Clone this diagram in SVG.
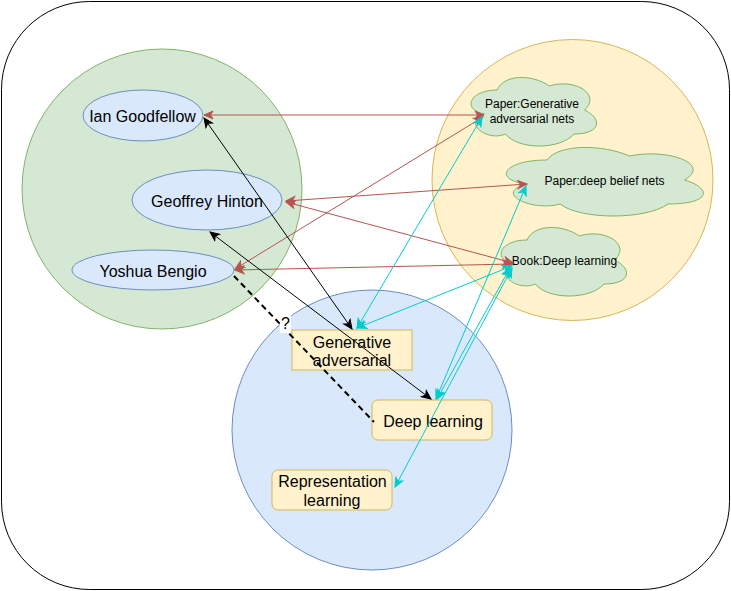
<svg xmlns="http://www.w3.org/2000/svg" width="731" height="591" viewBox="0 0 731 591">
<style>
text{font-family:"Liberation Sans",Arial,Helvetica,sans-serif;fill:#000;text-anchor:middle}
.n{font-size:16px}
.c{font-size:12px}
.ell{fill:#dae8fc;stroke:#6c8ebf;stroke-width:1}
.box{fill:#fff2cc;stroke:#d6b656;stroke-width:1}
.cloud{fill:#d5e8d4;stroke:#82b366;stroke-width:1}
.red{stroke:#b85450;stroke-width:1;fill:none;marker-start:url(#mr);marker-end:url(#mr)}
.blk{stroke:#000;stroke-width:1;fill:none;marker-start:url(#mk);marker-end:url(#mk)}
.cy{stroke:#00cccc;stroke-width:1;fill:none;marker-start:url(#mc);marker-end:url(#mc)}
.dash{stroke:#000;stroke-width:2;fill:none;stroke-dasharray:6 4}
</style>
<defs>
<marker id="mr" markerUnits="userSpaceOnUse" markerWidth="12" markerHeight="10" viewBox="-10 -5 12 10" refX="0" refY="0" orient="auto-start-reverse"><path d="M0,0 L-9,-4 L-6.5,0 L-9,4 Z" fill="#b85450" stroke="#b85450" stroke-width="1"/></marker>
<marker id="mk" markerUnits="userSpaceOnUse" markerWidth="12" markerHeight="10" viewBox="-10 -5 12 10" refX="0" refY="0" orient="auto-start-reverse"><path d="M0,0 L-9,-4 L-6.5,0 L-9,4 Z" fill="#000" stroke="#000" stroke-width="1"/></marker>
<marker id="mc" markerUnits="userSpaceOnUse" markerWidth="12" markerHeight="10" viewBox="-10 -5 12 10" refX="0" refY="0" orient="auto-start-reverse"><path d="M0,0 L-9,-4 L-6.5,0 L-9,4 Z" fill="#00cccc" stroke="#00cccc" stroke-width="1"/></marker>
</defs>
<g id="frame"><rect x="1.5" y="1.5" width="728" height="588" rx="88" ry="88" fill="#fff" stroke="#000" stroke-width="1"/></g>
<g id="people-circle"><circle cx="162" cy="189" r="140" fill="#d5e8d4" stroke="#82b366"/></g>
<g id="works-circle"><circle cx="572.5" cy="180" r="140.5" fill="#fff2cc" stroke="#d6b656"/></g>
<g id="topics-circle"><circle cx="372" cy="430" r="140" fill="#dae8fc" stroke="#6c8ebf"/></g>

<g id="ian"><ellipse class="ell" cx="143" cy="115.5" rx="60" ry="25.5"/><text class="n" x="142.5" y="121.5">Ian Goodfellow</text></g>
<g id="hinton"><ellipse class="ell" cx="207" cy="200" rx="75" ry="30"/><text class="n" x="207" y="207">Geoffrey Hinton</text></g>
<g id="bengio"><ellipse class="ell" cx="153" cy="270" rx="81" ry="20"/><text class="n" x="153" y="277">Yoshua Bengio</text></g>

<g id="paper-gan"><path class="cloud" transform="translate(462,70)" d="M35 20 C7 20 0 40 22.4 44 C0 52.8 25.2 72 43.4 64 C56 80 98 80 112 64 C140 64 140 48 122.5 40 C140 24 112 8 87.5 16 C70 4 42 4 35 20 Z"/><text class="c" x="532" y="108">Paper:Generative</text><text class="c" x="532" y="123">adversarial nets</text></g>
<g id="paper-dbn"><path class="cloud" transform="translate(492,140)" d="M55 20 C11 20 0 40 35.2 44 C0 52.8 39.6 72 68.2 64 C88 80 154 80 176 64 C220 64 220 48 192.5 40 C220 24 176 8 137.5 16 C110 4 66 4 55 20 Z"/><text class="c" x="604.5" y="185">Paper:deep belief nets</text></g>
<g id="book-dl"><path class="cloud" transform="translate(492,220)" d="M35 20 C7 20 0 40 22.4 44 C0 52.8 25.2 72 43.4 64 C56 80 98 80 112 64 C140 64 140 48 122.5 40 C140 24 112 8 87.5 16 C70 4 42 4 35 20 Z"/><text class="c" x="564.5" y="265">Book:Deep learning</text></g>

<g id="gan"><rect class="box" x="292" y="330" width="120" height="40"/><text class="n" x="352" y="348">Generative</text><text class="n" x="352" y="366">adversarial</text></g>
<g id="deep-learning"><rect class="box" x="372" y="400" width="120" height="40" rx="6" ry="6"/><text class="n" x="433" y="427">Deep learning</text></g>
<g id="representation"><rect class="box" x="272" y="470" width="120" height="40" rx="6" ry="6"/><text class="n" x="332.5" y="487">Representation</text><text class="n" x="332" y="506">learning</text></g>

<g id="connectors">
<line class="red" x1="204" y1="115" x2="484" y2="115"/>
<line class="red" x1="235" y1="269" x2="483" y2="117"/>
<line class="red" x1="286" y1="201" x2="527" y2="184"/>
<line class="red" x1="286" y1="202" x2="513" y2="263"/>
<line class="red" x1="235" y1="270" x2="512" y2="264"/>
<line class="blk" x1="204" y1="118" x2="352" y2="329"/>
<line class="blk" x1="210" y1="232" x2="431" y2="399"/>
<line class="cy" x1="357" y1="328" x2="482" y2="117"/>
<line class="cy" x1="357" y1="328" x2="512" y2="266"/>
<line class="cy" x1="436" y1="399" x2="526" y2="186"/>
<line class="cy" x1="437" y1="399" x2="510" y2="268"/>
<line class="cy" x1="395" y1="487" x2="512" y2="268"/>
<line class="dash" x1="234" y1="276" x2="374" y2="422"/>
<rect x="280" y="313" width="11" height="20" fill="#fff"/>
<text class="n" x="285.5" y="329">?</text>
</g>
</svg>
